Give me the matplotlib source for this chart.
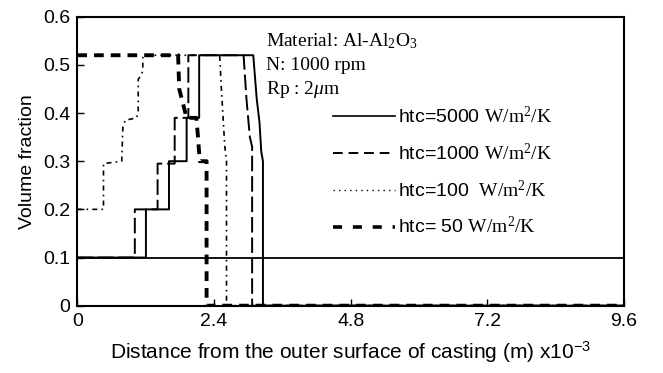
import matplotlib
matplotlib.use("Agg")
import matplotlib.pyplot as plt
from matplotlib.lines import Line2D

plt.rcParams['mathtext.fontset'] = 'custom'
plt.rcParams['mathtext.rm'] = 'Liberation Serif'
plt.rcParams['mathtext.it'] = 'Liberation Serif:italic'
plt.rcParams['mathtext.default'] = 'regular'

SANS = ['Liberation Sans', 'DejaVu Sans']
SERIF = ['Liberation Serif', 'DejaVu Serif']

# distance in mm (x10^-3 m)
x_5000 = [0, 1.205, 1.205, 1.61, 1.61, 1.92, 1.92, 2.14, 2.14, 3.09, 3.15, 3.20, 3.23, 3.26, 3.26, 9.6]
y_5000 = [0.1, 0.1, 0.2, 0.2, 0.3, 0.3, 0.39, 0.39, 0.52, 0.52, 0.43, 0.38, 0.32, 0.30, 0.0, 0.0]

x_1000 = [0, 1.01, 1.01, 1.41, 1.41, 1.71, 1.71, 1.95, 1.95, 2.92, 2.97, 3.03, 3.07, 3.07, 9.6]
y_1000 = [0.1, 0.1, 0.2, 0.2, 0.295, 0.295, 0.39, 0.39, 0.52, 0.52, 0.43, 0.35, 0.33, 0.0, 0.0]

x_100 = [0, 0.46, 0.46, 0.78, 0.80, 0.84, 1.04, 1.07, 1.07, 1.13, 1.15, 1.15, 2.50, 2.53, 2.56, 2.59, 2.62, 2.62, 9.6]
y_100 = [0.2, 0.2, 0.295, 0.30, 0.37, 0.385, 0.39, 0.40, 0.47, 0.48, 0.49, 0.52, 0.52, 0.45, 0.39, 0.33, 0.30, 0.0, 0.0]

x_50 = [0, 1.77, 1.79, 1.92, 2.09, 2.12, 2.15, 2.27, 2.27, 9.6]
y_50 = [0.52, 0.52, 0.45, 0.39, 0.39, 0.35, 0.30, 0.30, 0.0, 0.0]

initial_fraction = 0.1

x_ticks = [0, 2.4, 4.8, 7.2, 9.6]
x_tick_labels = ['0', '2.4', '4.8', '7.2', '9.6']
y_ticks = [0, 0.1, 0.2, 0.3, 0.4, 0.5, 0.6]
y_tick_labels = ['0', '0.1', '0.2', '0.3', '0.4', '0.5', '0.6']

labels = ['htc=5000 $\\mathrm{W/m^2/K}$',
          'htc=1000 $\\mathrm{W/m^2/K}$',
          'htc=100  $\\mathrm{W/m^2/K}$',
          'htc= 50 $\\mathrm{W/m^2/K}$']

W, H = 663, 373
fig = plt.figure(figsize=(W / 100, H / 100), dpi=100)
L, R, T, B = 77.3, 624, 16.7, 305.7
ax = fig.add_axes([L / W, 1 - B / H, (R - L) / W, (B - T) / H])

k = 'black'
ax.axhline(initial_fraction, color=k, lw=1.3)
ax.plot(x_5000, y_5000, color=k, lw=1.4, ls='-')
ax.plot(x_1000, y_1000, color=k, lw=1.4, ls=(0, (8, 2.5)))
ax.plot(x_100, y_100, color=k, lw=1.2, ls=(0, (3, 2.5, 1, 2.5)))
ax.plot(x_50, y_50, color=k, lw=2.8, ls=(0, (2.5, 1.8)))

ax.set_xlim(0, 9.6)
ax.set_ylim(0, 0.6)
ax.set_xticks(x_ticks)
ax.set_xticklabels(x_tick_labels, family=SANS, fontsize=14)
ax.set_yticks(y_ticks)
ax.set_yticklabels(y_tick_labels, family=SANS, fontsize=14)
ax.tick_params(direction='in', length=5, width=1, pad=5)
for s in ax.spines.values():
    s.set_linewidth(1.5)

ax.set_ylabel('Volume fraction', family=SANS, fontsize=14, labelpad=5)
ax.set_xlabel('Distance from the outer surface of casting (m) x$10^{-3}$',
              family=SANS, fontsize=15, labelpad=7)

handles = [Line2D([], [], color=k, lw=1.2, ls='-'),
           Line2D([], [], color=k, lw=1.4, ls=(0, (5, 3))),
           Line2D([], [], color=k, lw=1.0, ls=(0, (1, 3))),
           Line2D([], [], color=k, lw=2.6, ls=(0, (2.5, 3)))]
ax.legend(handles, labels, loc='upper left', frameon=False,
          bbox_to_anchor=(333 / W, 1 - 106 / H), bbox_transform=fig.transFigure,
          prop={'family': SANS, 'size': 14}, handlelength=3.2,
          handletextpad=0.15, labelspacing=0.8, borderpad=0, borderaxespad=0)

tx = (266 - L) / (R - L)
ax.text(tx, 1 - (41 - T) / (B - T), 'Material: Al-Al$_2$O$_3$', transform=ax.transAxes,
        family=SERIF, fontsize=14, va='center', ha='left')
ax.text(tx, 1 - (66 - T) / (B - T), 'N: 1000 rpm', transform=ax.transAxes,
        family=SERIF, fontsize=14, va='center', ha='left')
ax.text(tx, 1 - (90 - T) / (B - T), 'Rp : 2$\\mathit{\\mu}$m', transform=ax.transAxes,
        family=SERIF, fontsize=14, va='center', ha='left')

fig.savefig('out.png', dpi=100)
